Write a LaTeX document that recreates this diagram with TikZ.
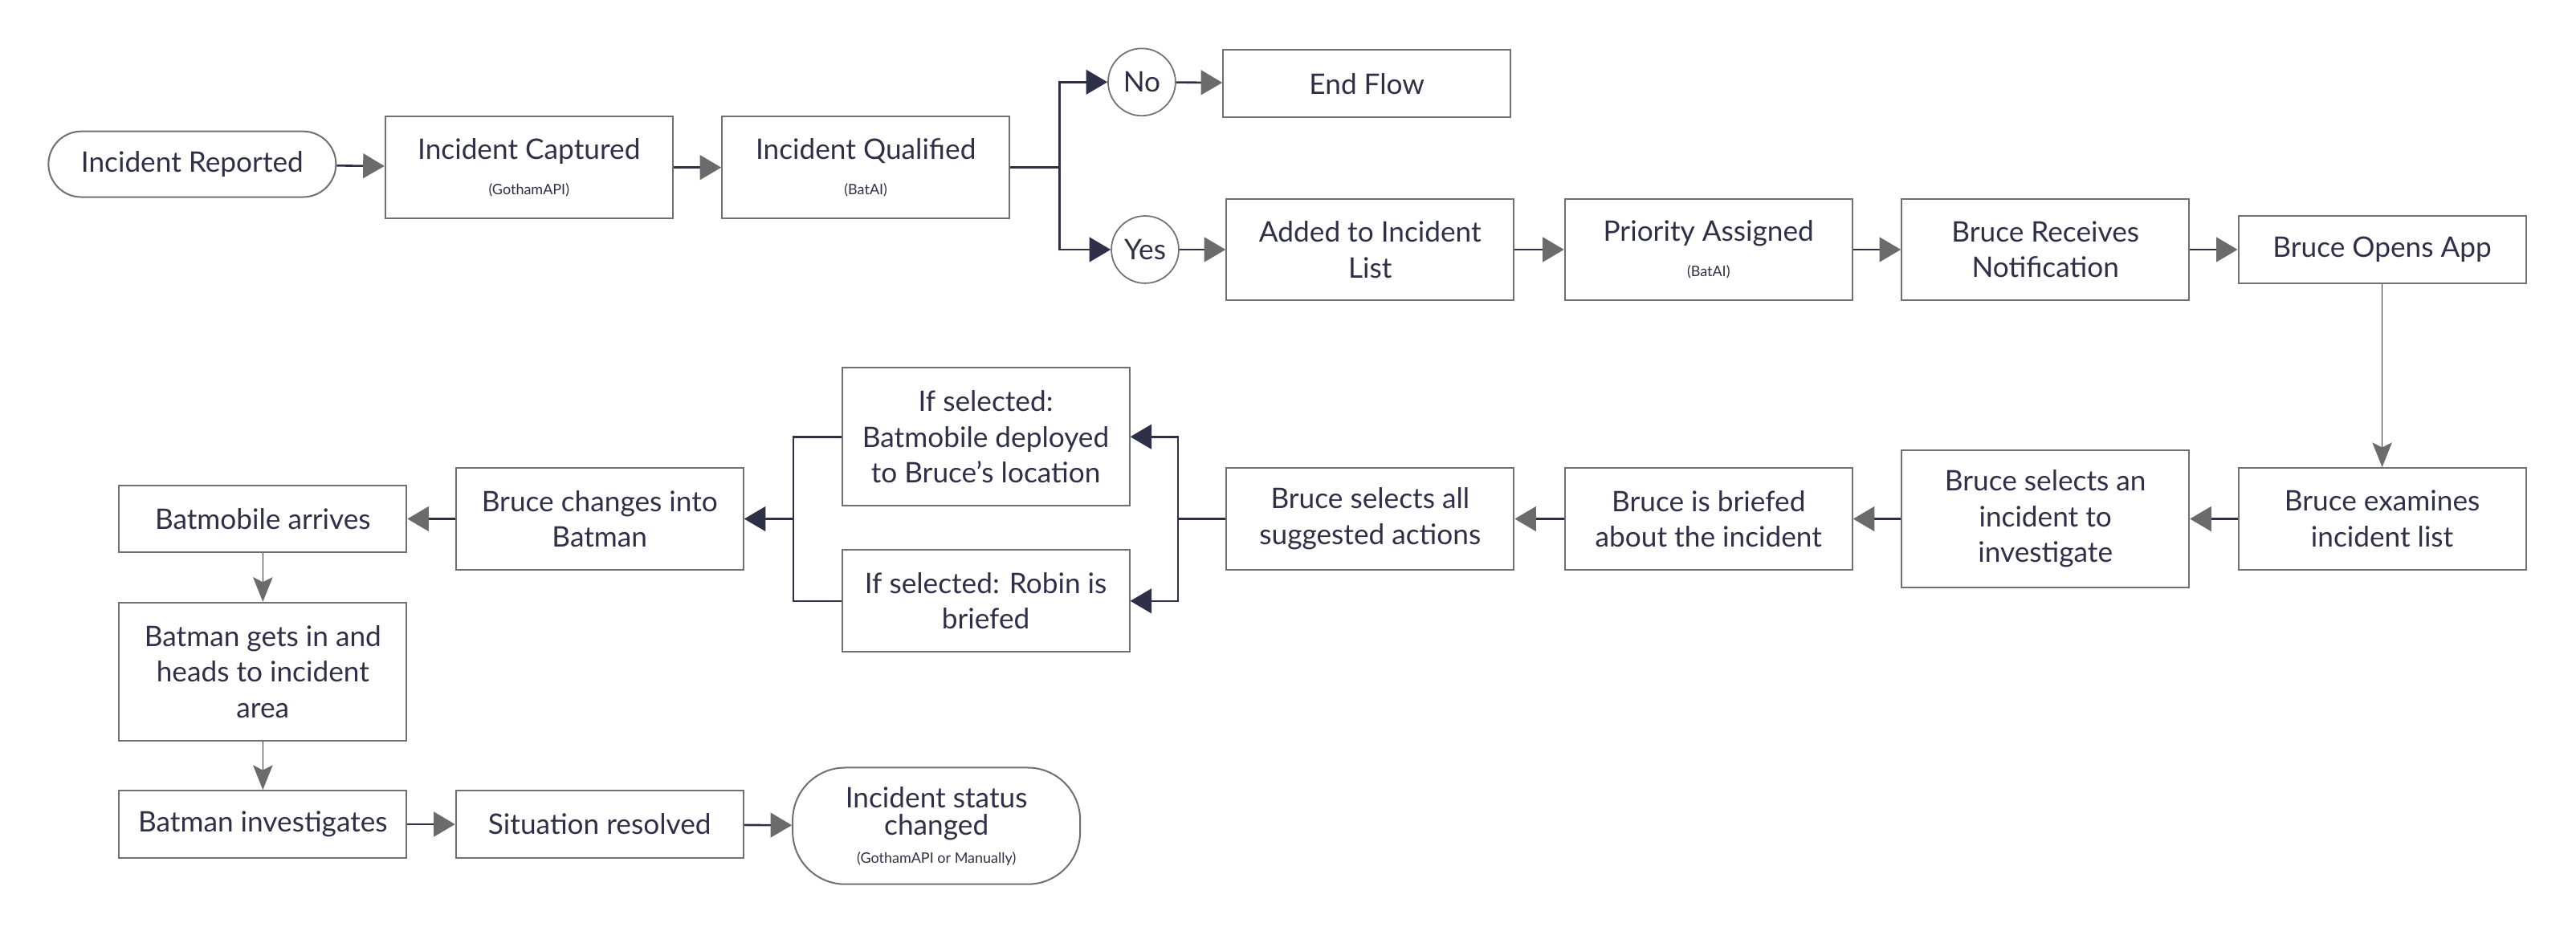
\documentclass[tikz,border=0pt]{standalone}
\usepackage{fontspec}
\setmainfont{Lato}
\usetikzlibrary{arrows.meta}
\definecolor{ink}{HTML}{2E3047}
\definecolor{edge}{HTML}{707070}
\definecolor{tip}{HTML}{6B6B6B}
\newcommand{\bigsize}{\fontsize{24.5}{31}\selectfont}
\newcommand{\smallsize}{\fontsize{12.5}{15}\selectfont}
\tikzset{
  box/.style={draw=edge,line width=1.4pt,text=ink,align=center,font=\bigsize,
    minimum width=8.75cm,minimum height=3.1cm,inner sep=0pt},
  lowbox/.style={box,minimum height=2.05cm},
  tallbox/.style={box,minimum height=4.2cm},
  pill/.style={box,rounded corners=1cm,minimum height=2cm},
  answer/.style={draw=edge,line width=1.2pt,circle,text=ink,font=\bigsize,
    minimum size=2.05cm,inner sep=0pt},
  link/.style={draw=ink,line width=1.8pt},
  flow/.style={link,-{Triangle[length=0.65cm,width=0.75cm,color=tip]}},
  branch/.style={link,-{Triangle[length=0.65cm,width=0.75cm,color=ink]}},
  down/.style={draw=ink,line width=0.8pt,-{Stealth[length=0.75cm,width=0.6cm,inset=0.15cm,color=tip]}},
}
\begin{document}
\begin{tikzpicture}[x=0.05cm,y=-0.05cm]
  \useasboundingbox (0,0) rectangle (1568,569);
  % intake
  \node[pill] (rep) at (117,100) {Incident Reported};
  \node[box] (cap) at (322,102) {Incident Captured\\{\smallsize(GothamAPI)}};
  \node[box] (qual) at (527,102) {Incident Qualified\\{\smallsize(BatAI)}};
  \coordinate (fork1) at (645,102);
  \node[answer] (no) at (695,50) {No};
  \node[answer] (yes) at (697,152) {Yes};
  \node[lowbox] (endf) at (832,51) {End Flow};
  \draw[flow] (rep) -- (cap);
  \draw[flow] (cap) -- (qual);
  \draw[link] (qual) -- (fork1);
  \draw[branch] (fork1) |- (no);
  \draw[branch] (fork1) |- (yes);
  \draw[flow] (no) -- (endf);
  % top row
  \node[box] (added) at (834,152) {Added to Incident\\List};
  \node[box] (prio) at (1040,152) {Priority Assigned\\{\smallsize(BatAI)}};
  \node[box] (notif) at (1245,152) {Bruce Receives\\Notification};
  \node[lowbox] (opens) at (1450,152) {Bruce Opens App};
  \draw[flow] (yes) -- (added);
  \draw[flow] (added) -- (prio);
  \draw[flow] (prio) -- (notif);
  \draw[flow] (notif) -- (opens);
  % middle row
  \node[box] (exam) at (1450,316) {Bruce examines\\incident list};
  \node[tallbox] (selinc) at (1245,316) {Bruce selects an\\incident to\\investigate};
  \node[box] (brief) at (1040,316) {Bruce is briefed\\about the incident};
  \node[box] (selall) at (834,316) {Bruce selects all\\suggested actions};
  \draw[down] (opens) -- (exam);
  \draw[flow] (exam) -- (selinc);
  \draw[flow] (selinc) -- (brief);
  \draw[flow] (brief) -- (selall);
  % options
  \node[tallbox] (mobile) at (600,266) {If selected:\\Batmobile deployed\\to Bruce's location};
  \node[box] (robin) at (600,366) {If selected: Robin is\\briefed};
  \coordinate (fork2) at (717,316);
  \coordinate (join) at (483,316);
  \draw[link] (selall) -- (fork2);
  \draw[branch] (fork2) |- (mobile);
  \draw[branch] (fork2) |- (robin);
  \draw[link] (mobile.west) -| (join) |- (robin.west);
  \node[box] (change) at (365,316) {Bruce changes into\\Batman};
  \node[lowbox] (arrive) at (160,316) {Batmobile arrives};
  \draw[branch] (join) -- (change);
  \draw[flow] (change) -- (arrive);
  % last steps
  \node[tallbox] (getin) at (160,409) {Batman gets in and\\heads to incident\\area};
  \node[lowbox] (invest) at (160,502) {Batman investigates};
  \node[lowbox] (resolved) at (365,502) {Situation resolved};
  \node[box,rounded corners=1.6cm,minimum height=3.55cm,font=\fontsize{24.5}{24}\selectfont] (status) at (570,503)
    {Incident status\\changed\\{\smallsize(GothamAPI or Manually)}};
  \draw[down] (arrive) -- (getin);
  \draw[down] (getin) -- (invest);
  \draw[flow] (invest) -- (resolved);
  \draw[flow] (resolved) -- (status);
\end{tikzpicture}
\end{document}
